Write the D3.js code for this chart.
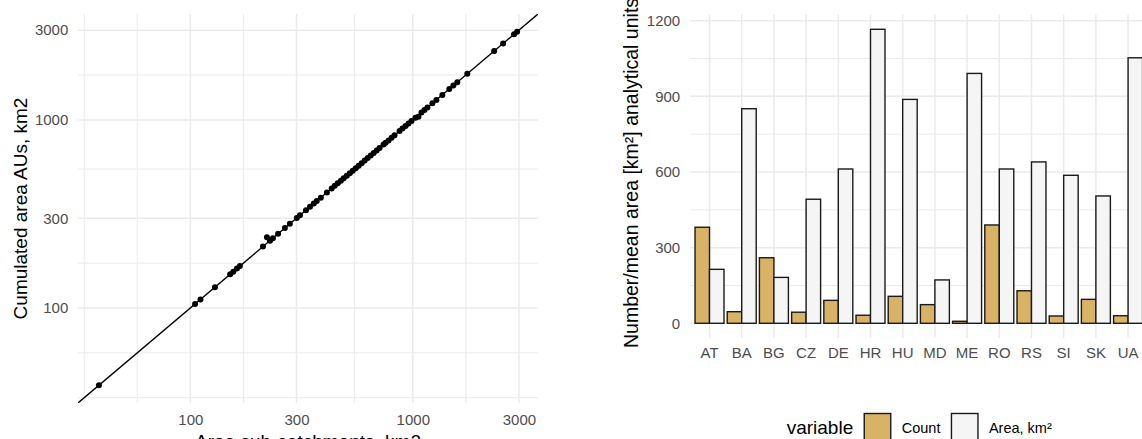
<!DOCTYPE html>
<html>
<head>
<meta charset="utf-8">
<script src="https://cdn.jsdelivr.net/npm/d3@7"></script>
<style>
  body { margin: 0; background: #ffffff; }
  svg { display: block; font-family: 'Liberation Sans', Arial, sans-serif; }
  .axis text { fill: #4d4d4d; font-size: 15px; }
  .axis path { display: none; }
  .title { fill: #000000; font-size: 19px; }
</style>
</head>
<body>
<svg></svg>
<script>
// left panel: area of sub-catchments vs cumulated area of AUs (km2)
let areaSub = [38.8, 105, 111, 129, 151, 156, 162, 167, 212, 221, 228, 235, 248, 266, 280,
  301, 311, 331, 345, 359, 370, 386, 411, 432, 446, 460, 475, 489, 505, 521, 537, 554,
  571, 589, 608, 627, 647, 667, 688, 709, 739, 755, 778, 803, 828, 872, 899, 928, 957,
  987, 1028, 1060, 1094, 1128, 1164, 1225, 1277, 1358, 1460, 1522, 1586, 1758, 2322,
  2548, 2854, 2944];
let areaCum = [38.8, 105, 111, 129, 151, 156, 162, 167, 212, 238, 228, 235, 248, 266, 280,
  301, 311, 331, 345, 359, 370, 386, 411, 432, 446, 460, 475, 489, 505, 521, 537, 554,
  571, 589, 608, 627, 647, 667, 688, 709, 739, 755, 778, 803, 828, 872, 899, 928, 957,
  987, 1028, 1040, 1094, 1128, 1164, 1225, 1277, 1358, 1460, 1522, 1586, 1758, 2322,
  2548, 2854, 2944];
let logBreaks = [100, 300, 1000, 3000];

// right panel: number and mean area of analytical units per country
let countries = ['AT', 'BA', 'BG', 'CZ', 'DE', 'HR', 'HU', 'MD', 'ME', 'RO', 'RS', 'SI', 'SK', 'UA'];
let variables = ['Count', 'Area, km\u00b2'];
let countValues = [381, 46, 260, 44, 91, 32, 107, 74, 8, 390, 129, 29, 95, 30];
let areaValues = [214, 851, 182, 492, 612, 1166, 888, 172, 991, 612, 640, 587, 505, 1053];
let barBreaks = [0, 300, 600, 900, 1200];
let barColors = ['#d8b365', '#f5f5f5'];

let config = {
  'svg': { 'width': 1142, 'height': 439 },
  'left': { 'x0': 78, 'x1': 538, 'y0': 14, 'y1': 403 },
  'right': { 'x0': 690.2, 'x1': 1147.4, 'y0': 14.6, 'y1': 338 }
};

let svg = d3.select('body').select('svg');
svg.attr('width', config.svg.width);
svg.attr('height', config.svg.height);

// ---------- left panel ----------
let scale = {};

function logDomain(values) {
  let lo = Math.log10(d3.min(values));
  let hi = Math.log10(d3.max(values));
  let pad = (hi - lo) * 0.05;
  return [Math.pow(10, lo - pad), Math.pow(10, hi + pad)];
}

scale.x = d3.scaleLog().domain(logDomain(areaSub)).range([config.left.x0, config.left.x1]);
scale.y = d3.scaleLog().domain(logDomain(areaCum)).range([config.left.y1, config.left.y0]);

// minor breaks the ggplot way: midpoints in log space, extended by one step
function logMinor(breaks, domain) {
  let b = breaks.map(Math.log10);
  let step = b[1] - b[0];
  if (Math.log10(domain[0]) < b[0]) b.unshift(b[0] - step);
  if (Math.log10(domain[1]) > b[b.length - 1]) b.push(b[b.length - 1] + step);
  let out = [];
  for (let i = 0; i < b.length - 1; i++) {
    out.push(b[i]);
    out.push((b[i] + b[i + 1]) / 2);
  }
  out.push(b[b.length - 1]);
  return out.map(v => Math.pow(10, v))
    .filter(v => v >= domain[0] && v <= domain[1])
    .filter(v => !breaks.some(m => Math.abs(m - v) < 1e-6 * m));
}

let left = svg.append('g').attr('id', 'left');

let gridL = left.append('g').attr('class', 'grid');
gridL.selectAll('line.vminor')
  .data(logMinor(logBreaks, scale.x.domain()))
  .enter().append('line')
  .attr('x1', d => scale.x(d)).attr('x2', d => scale.x(d))
  .attr('y1', config.left.y0).attr('y2', config.left.y1)
  .attr('stroke', '#ebebeb').attr('stroke-width', 1);
gridL.selectAll('line.hminor')
  .data(logMinor(logBreaks, scale.y.domain()))
  .enter().append('line')
  .attr('y1', d => scale.y(d)).attr('y2', d => scale.y(d))
  .attr('x1', config.left.x0).attr('x2', config.left.x1)
  .attr('stroke', '#ebebeb').attr('stroke-width', 1);
gridL.selectAll('line.vmajor')
  .data(logBreaks)
  .enter().append('line')
  .attr('x1', d => scale.x(d)).attr('x2', d => scale.x(d))
  .attr('y1', config.left.y0).attr('y2', config.left.y1)
  .attr('stroke', '#ebebeb').attr('stroke-width', 1.5);
gridL.selectAll('line.hmajor')
  .data(logBreaks)
  .enter().append('line')
  .attr('y1', d => scale.y(d)).attr('y2', d => scale.y(d))
  .attr('x1', config.left.x0).attr('x2', config.left.x1)
  .attr('stroke', '#ebebeb').attr('stroke-width', 1.5);

// identity line, clipped to panel
svg.append('clipPath').attr('id', 'clipLeft')
  .append('rect')
  .attr('x', config.left.x0).attr('y', config.left.y0)
  .attr('width', config.left.x1 - config.left.x0)
  .attr('height', config.left.y1 - config.left.y0);

let ends = [1, 100000];
left.append('line')
  .attr('clip-path', 'url(#clipLeft)')
  .attr('x1', scale.x(ends[0])).attr('y1', scale.y(ends[0]))
  .attr('x2', scale.x(ends[1])).attr('y2', scale.y(ends[1]))
  .attr('stroke', '#000000').attr('stroke-width', 1.4);

left.selectAll('circle')
  .data(areaSub.map((d, i) => ({ 'x': d, 'y': areaCum[i] })))
  .enter().append('circle')
  .attr('cx', d => scale.x(d.x))
  .attr('cy', d => scale.y(d.y))
  .attr('r', 3)
  .attr('fill', '#000000');

let axis = {};
axis.x = d3.axisBottom(scale.x).tickValues(logBreaks).tickSize(0).tickPadding(11).tickFormat(d3.format('d'));
axis.y = d3.axisLeft(scale.y).tickValues(logBreaks).tickSize(0).tickPadding(9.7).tickFormat(d3.format('d'));

left.append('g').attr('class', 'axis')
  .attr('transform', translate(0, config.left.y1))
  .call(axis.x);
left.append('g').attr('class', 'axis')
  .attr('transform', translate(config.left.x0, 0))
  .call(axis.y);

left.append('text').attr('class', 'title')
  .attr('x', (config.left.x0 + config.left.x1) / 2)
  .attr('y', 448)
  .attr('text-anchor', 'middle')
  .text('Area sub-catchments, km2');

left.append('text').attr('class', 'title')
  .attr('transform', translate(27, (config.left.y0 + config.left.y1) / 2) + ' rotate(-90)')
  .attr('text-anchor', 'middle')
  .text('Cumulated area AUs, km2');

// ---------- right panel ----------
let rows = countries.map((c, i) => ({ 'country': c, 'values': [
  { 'variable': variables[0], 'value': countValues[i] },
  { 'variable': variables[1], 'value': areaValues[i] }
] }));

scale.band = d3.scaleBand()
  .domain(countries)
  .range([config.right.x0, config.right.x1])
  .paddingInner(0.1)
  .paddingOuter(0.15);

scale.sub = d3.scaleBand()
  .domain(variables)
  .range([0, scale.band.bandwidth()]);

let maxValue = d3.max(countValues.concat(areaValues));
scale.val = d3.scaleLinear()
  .domain([-0.05 * maxValue, 1.05 * maxValue])
  .range([config.right.y1, config.right.y0]);

scale.fill = d3.scaleOrdinal().domain(variables).range(barColors);

let right = svg.append('g').attr('id', 'right');
let gridR = right.append('g').attr('class', 'grid');

let minorVals = [];
for (let i = 0; i < barBreaks.length - 1; i++) minorVals.push((barBreaks[i] + barBreaks[i + 1]) / 2);

gridR.selectAll('line.hminor')
  .data(minorVals)
  .enter().append('line')
  .attr('y1', d => scale.val(d)).attr('y2', d => scale.val(d))
  .attr('x1', config.right.x0).attr('x2', config.right.x1)
  .attr('stroke', '#ebebeb').attr('stroke-width', 1);
gridR.selectAll('line.hmajor')
  .data(barBreaks)
  .enter().append('line')
  .attr('y1', d => scale.val(d)).attr('y2', d => scale.val(d))
  .attr('x1', config.right.x0).attr('x2', config.right.x1)
  .attr('stroke', '#ebebeb').attr('stroke-width', 1.5);
gridR.selectAll('line.vmajor')
  .data(countries)
  .enter().append('line')
  .attr('x1', d => scale.band(d) + scale.band.bandwidth() / 2)
  .attr('x2', d => scale.band(d) + scale.band.bandwidth() / 2)
  .attr('y1', config.right.y0).attr('y2', config.right.y1)
  .attr('stroke', '#ebebeb').attr('stroke-width', 1.5);

let groups = right.selectAll('g.country')
  .data(rows)
  .enter().append('g')
  .attr('class', 'country')
  .attr('transform', d => translate(scale.band(d.country), 0));

groups.selectAll('rect')
  .data(d => d.values)
  .enter().append('rect')
  .attr('x', d => scale.sub(d.variable))
  .attr('y', d => scale.val(d.value))
  .attr('width', scale.sub.bandwidth())
  .attr('height', d => scale.val(0) - scale.val(d.value))
  .attr('fill', d => scale.fill(d.variable))
  .attr('stroke', '#1a1a1a')
  .attr('stroke-width', 1.4);

axis.band = d3.axisBottom(scale.band).tickSize(0).tickPadding(9.4);
axis.val = d3.axisLeft(scale.val).tickValues(barBreaks).tickSize(0).tickPadding(10).tickFormat(d3.format('d'));

right.append('g').attr('class', 'axis')
  .attr('transform', translate(0, config.right.y1))
  .call(axis.band);
right.append('g').attr('class', 'axis')
  .attr('transform', translate(config.right.x0, 0))
  .call(axis.val);

right.append('text').attr('class', 'title')
  .attr('transform', translate(638, 348) + ' rotate(-90)')
  .attr('text-anchor', 'start')
  .style('font-size', '19.5px')
  .text('Number/mean area [km\u00b2] analytical units');

// legend at the bottom
let legend = right.append('g').attr('id', 'legend');
let lt = legend.append('text').attr('class', 'title')
  .attr('x', 786.7).attr('y', 434)
  .text('variable');
let lx = 786.7 + lt.node().getComputedTextLength() + 11;

variables.forEach(function(v) {
  legend.append('rect')
    .attr('x', lx).attr('y', 413.5)
    .attr('width', 26.5).attr('height', 26.5)
    .attr('fill', scale.fill(v))
    .attr('stroke', '#1a1a1a')
    .attr('stroke-width', 1.4);
  let t = legend.append('text')
    .attr('x', lx + 26.5 + 11).attr('y', 433)
    .style('font-size', '14.5px')
    .style('fill', '#000000')
    .text(v);
  lx = lx + 26.5 + 11 + t.node().getComputedTextLength() + 11;
});

// helper method to make translating easier
function translate(x, y) {
  return 'translate(' + x + ',' + y + ')';
}
</script>
</body>
</html>
